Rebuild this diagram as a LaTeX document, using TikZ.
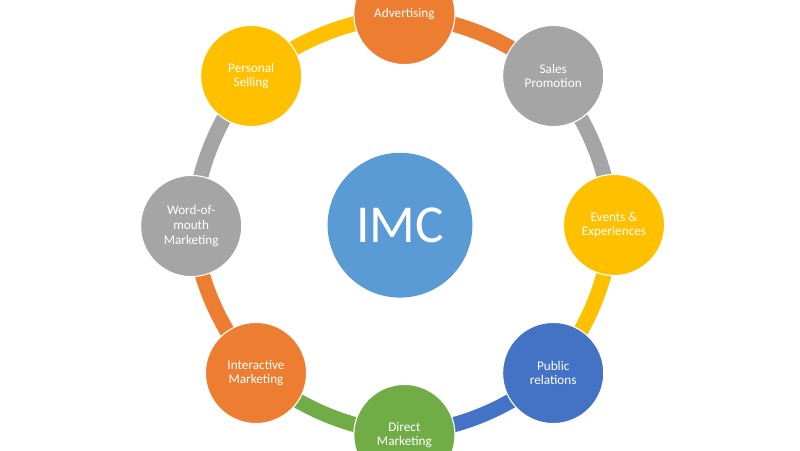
\documentclass[tikz,border=0pt]{standalone}
\usepackage{fontspec}
\setmainfont{Carlito}
\usepackage{xcolor}
\usetikzlibrary{backgrounds}
\definecolor{imcorange}{HTML}{ED7D31}
\definecolor{imcgray}{HTML}{A5A5A5}
\definecolor{imcyellow}{HTML}{FFC000}
\definecolor{imcblue}{HTML}{4472C4}
\definecolor{imcgreen}{HTML}{70AD47}
\definecolor{imccentre}{HTML}{5B9BD5}
\tikzset{
    tool/.style={circle, draw=white, line width=0.8pt, minimum size=2.53cm, inner sep=0pt, align=center,
        text=white, font=\fontsize{9.4}{10.4}\selectfont},
    link/.style={line width=0.38cm, bend left=14}
}

\begin{document}
\begin{tikzpicture}
                \useasboundingbox (0, 0) rectangle (20, 11.25);
                \clip (0, 0) rectangle (20, 11.25);
                \node[tool, fill=imcorange] (advertising) at (10.11, 10.9) {Advertising};
                \node[tool, fill=imcgray] (sales) at (13.83, 9.35) {Sales\\Promotion};
                \node[tool, fill=imcyellow] (events) at (15.35, 5.625) {Events \&\\Experiences};
                \node[tool, fill=imcblue] (public) at (13.83, 1.925) {Public\\relations};
                \node[tool, fill=imcgreen] (direct) at (10.11, 0.375) {Direct\\Marketing};
                \node[tool, fill=imcorange] (interactive) at (6.4, 1.925) {Interactive\\Marketing};
                \node[tool, fill=imcgray] (word) at (4.78, 5.6) {Word-of-\\mouth\\Marketing};
                \node[tool, fill=imcyellow] (personal) at (6.28, 9.35) {Personal\\Selling};
                \node[circle, fill=imccentre, minimum size=3.62cm, inner sep=0pt, text=white,
                    font=\fontsize{38}{40}\selectfont] (imc) at (10, 5.62) {IMC};

                \begin{scope}[on background layer]
                    \draw[link, imcorange] (advertising.center) to (sales.center);
                    \draw[link, imcgray] (sales.center) to (events.center);
                    \draw[link, imcyellow] (events.center) to (public.center);
                    \draw[link, imcblue] (public.center) to (direct.center);
                    \draw[link, imcgreen] (direct.center) to (interactive.center);
                    \draw[link, imcorange] (interactive.center) to (word.center);
                    \draw[link, imcgray] (word.center) to (personal.center);
                    \draw[link, imcyellow] (personal.center) to (advertising.center);
                \end{scope}
            \end{tikzpicture}
\end{document}
